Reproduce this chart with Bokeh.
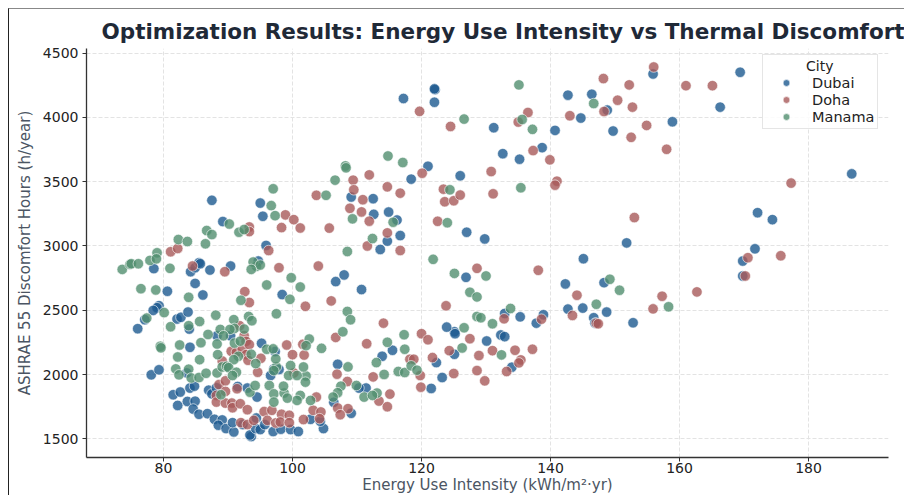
from bokeh.plotting import figure
from bokeh.models import Legend, LegendItem, Range1d, LinearAxis, FixedTicker
from bokeh.embed import file_html
from bokeh.resources import INLINE

cities = ["Dubai", "Doha", "Manama"]
x_ticks = [80, 100, 120, 140, 160, 180]
y_ticks = [1500, 2000, 2500, 3000, 3500, 4000, 4500]
title_text = "Optimization Results: Energy Use Intensity vs Thermal Discomfort"

# (energy use intensity, discomfort hours)
dubai = [
    (117.2, 4147), (122.1, 4216), (122.0, 4222), (122.0, 4118), (121.0, 3620), (118.4, 3520),
    (126.0, 3546), (127.0, 3107), (109.1, 3381), (112.5, 3368), (112.6, 3246), (114.9, 3264),
    (116.2, 3202), (116.7, 3081), (114.7, 3038), (113.6, 2973), (87.5, 3355), (95.0, 3334),
    (95.4, 3231), (89.2, 3190), (95.9, 3004), (131.2, 3920), (132.6, 3718), (135.2, 3675),
    (138.7, 3765), (140.7, 3899), (142.7, 4173), (146.4, 4180), (144.7, 3995), (148.8, 4057),
    (149.7, 3894), (155.9, 4338), (158.9, 3966), (166.3, 4080), (169.4, 4351), (129.8, 3055),
    (151.8, 3024), (186.7, 3561), (172.1, 3259), (174.4, 3205), (171.7, 2978), (169.8, 2883),
    (169.8, 2767), (145.1, 2901), (142.3, 2705), (148.3, 2715), (142.7, 2509), (145.0, 2517),
    (148.7, 2486), (146.7, 2442), (146.9, 2400), (152.8, 2403), (126.9, 2756), (132.9, 2475),
    (135.3, 2449), (138.9, 2465), (137.8, 2400), (125.1, 2333), (125.2, 2318), (130.1, 2261),
    (132.3, 2308), (132.9, 2295), (125.1, 2158), (134.0, 2057), (108.0, 2775), (106.7, 2723),
    (110.7, 2661), (115.5, 2189), (113.9, 2142), (107.0, 2080), (123.9, 2369), (122.3, 2093),
    (123.2, 1977), (121.5, 1892), (111.4, 1895), (110.3, 1895), (106.4, 1784), (109.1, 1699),
    (104.8, 1580), (104.3, 1637), (78.5, 2824), (80.6, 2648), (84.2, 2800), (84.9, 2831),
    (85.5, 2870), (85.7, 2862), (87.2, 2813), (90.4, 2844), (94.7, 2883), (84.9, 2709),
    (86.1, 2619), (98.4, 2622), (79.3, 2536), (79.0, 2520), (78.4, 2499), (77.1, 2427),
    (76.0, 2357), (82.1, 2432), (82.7, 2445), (83.8, 2486), (84.0, 2354), (84.1, 2212),
    (88.3, 2302), (90.4, 2302), (95.2, 2243), (97.3, 2179), (97.1, 2044), (78.1, 1998),
    (79.3, 2037), (83.6, 2013), (81.5, 1843), (82.6, 1864), (84.1, 1895), (84.8, 1910),
    (82.2, 1760), (83.7, 1791), (84.9, 1793), (84.6, 1732), (85.5, 1691), (86.8, 1696),
    (87.0, 1879), (87.5, 1850), (88.2, 1897), (87.9, 1652), (89.1, 1647), (88.5, 1606),
    (89.7, 1580), (90.9, 1554), (90.7, 1626), (92.3, 1611), (93.6, 1518), (93.4, 1530),
    (94.3, 1580), (95.0, 1572), (95.7, 1611), (94.4, 1662), (97.0, 1557), (98.2, 1575),
    (99.7, 1572), (100.9, 1557), (102.8, 1652), (91.5, 1907), (93.0, 1895), (94.5, 1825),
    (96.6, 1993), (97.9, 2039),
]

doha = [
    (119.7, 4047), (124.5, 3930), (103.7, 3394), (109.4, 3512), (109.5, 3437), (111.9, 3553),
    (114.7, 3460), (116.7, 3411), (110.9, 3360), (108.9, 3293), (110.7, 3265), (111.9, 3193),
    (114.7, 3102), (111.6, 3000), (116.7, 2965), (120.1, 3566), (123.4, 3442), (123.6, 3344),
    (125.0, 3352), (126.0, 3396), (122.5, 3192), (105.7, 3139), (98.9, 3242), (100.2, 3205),
    (101.2, 3140), (98.3, 3143), (93.3, 3148), (93.3, 3112), (96.3, 2965), (81.1, 2955),
    (82.2, 2981), (136.5, 4038), (135.0, 3964), (137.3, 3742), (139.9, 3670), (143.0, 4013),
    (148.2, 4302), (152.2, 4253), (156.0, 4392), (150.4, 4134), (152.7, 4080), (148.3, 4046),
    (154.9, 3938), (152.5, 3845), (158.0, 3752), (161.0, 4247), (165.1, 4247), (130.8, 3579),
    (131.1, 3406), (141.0, 3504), (140.7, 3473), (153.0, 3221), (177.3, 3489), (170.6, 2909),
    (175.7, 2924), (170.2, 2767), (162.7, 2643), (157.3, 2609), (128.6, 2826), (138.1, 2811),
    (144.1, 2617), (143.4, 2460), (147.1, 2400), (147.4, 2395), (155.9, 2511), (132.8, 2434),
    (138.6, 2431), (127.5, 2279), (128.9, 2148), (131.0, 2186), (134.5, 2189), (137.2, 2197),
    (135.4, 2114), (135.1, 2091), (133.2, 2024), (128.6, 2031), (129.8, 1951), (125.0, 2008),
    (104.0, 2844), (106.0, 2573), (114.1, 2400), (111.5, 2240), (106.7, 2289), (106.9, 2003),
    (108.5, 1946), (107.0, 1740), (108.6, 1735), (107.4, 1688), (112.5, 1982), (115.1, 1848),
    (113.4, 1794), (114.7, 1750), (120.0, 2318), (121.0, 2271), (121.7, 2132), (124.3, 2186),
    (118.2, 2119), (118.8, 2119), (119.8, 1993), (119.9, 1902), (123.8, 2535), (84.5, 2844),
    (89.5, 2800), (97.9, 2831), (92.6, 2645), (93.3, 2560), (102.0, 2531), (91.8, 2380),
    (90.5, 2181), (91.3, 2173), (92.2, 2199), (92.5, 2302), (92.8, 2258), (93.3, 2233),
    (92.8, 2155), (93.1, 2111), (94.6, 2018), (95.1, 2126), (99.1, 2230), (100.0, 2155),
    (101.6, 2235), (101.8, 2152), (100.2, 2013), (89.1, 2106), (88.6, 1922), (89.6, 1951),
    (88.2, 1838), (88.2, 1786), (89.6, 1778), (90.6, 1778), (90.7, 1742), (91.9, 1773),
    (93.0, 1727), (95.6, 1712), (96.8, 1722), (98.3, 1691), (99.5, 1683), (92.0, 1626),
    (93.0, 1611), (94.0, 1644), (96.1, 1644), (97.4, 1624), (98.1, 1631), (99.5, 1626),
    (101.7, 1650), (103.2, 1722), (103.7, 1825), (89.6, 1869), (91.4, 1890), (104.4, 1709),
    (104.2, 1657),
]

manama = [
    (126.6, 3987), (114.8, 3700), (117.1, 3649), (108.2, 3623), (108.3, 3608), (106.6, 3512),
    (105.2, 3394), (109.3, 3211), (115.6, 3185), (112.4, 3058), (124.4, 3437), (124.0, 3181),
    (97.0, 3445), (96.7, 3314), (97.3, 3236), (90.2, 3171), (86.7, 3120), (87.5, 3089),
    (86.5, 3017), (91.7, 3107), (92.5, 3128), (82.3, 3050), (83.7, 3035), (79.0, 2947),
    (108.5, 2957), (135.1, 4253), (135.6, 3984), (137.2, 3907), (146.7, 4108), (135.4, 3453),
    (158.3, 2527), (125.1, 2787), (130.0, 2767), (127.5, 2640), (128.6, 2604), (149.2, 2741),
    (150.7, 2656), (147.1, 2547), (133.8, 2514), (128.6, 2452), (129.2, 2442), (131.0, 2395),
    (126.6, 2364), (126.3, 2207), (132.4, 2153), (108.5, 2491), (109.0, 2426), (107.8, 2333),
    (104.5, 2204), (114.7, 2251), (117.3, 2310), (117.4, 2197), (113.0, 2093), (114.2, 2001),
    (116.4, 2024), (117.4, 2016), (108.6, 2060), (107.5, 1910), (107.0, 1859), (106.3, 1825),
    (109.9, 1915), (111.1, 1825), (113.1, 1856), (112.4, 1838), (118.4, 2068), (119.3, 2034),
    (121.8, 2896), (73.6, 2818), (74.8, 2857), (75.0, 2862), (76.1, 2862), (77.9, 2888),
    (78.9, 2900), (81.0, 2826), (76.5, 2668), (78.8, 2658), (83.9, 2601), (80.1, 2482),
    (77.4, 2439), (81.1, 2372), (83.9, 2380), (85.6, 2413), (88.1, 2462), (88.8, 2351),
    (86.9, 2312), (85.8, 2248), (82.5, 2230), (79.5, 2220), (79.6, 2208), (82.2, 2137),
    (85.6, 2116), (81.9, 2044), (83.9, 2042), (82.4, 1998), (84.3, 1974), (85.5, 1977),
    (86.6, 2010), (88.3, 2013), (89.1, 2059), (89.8, 2064), (88.4, 2155), (88.3, 2238),
    (90.9, 2427), (91.0, 2359), (92.5, 2354), (93.2, 2452), (93.7, 2419), (94.4, 2842),
    (93.9, 2875), (92.0, 2578), (96.0, 2697), (95.0, 2852), (93.6, 2818), (99.8, 2753),
    (99.6, 2585), (101.2, 2681), (97.5, 2473), (96.0, 2197), (93.6, 2158), (91.6, 2142),
    (90.9, 2116), (91.0, 2245), (91.9, 2260), (90.3, 2351), (89.3, 2302), (94.3, 2086),
    (97.0, 2200), (97.5, 2059), (99.7, 2070), (102.1, 1989), (101.7, 2059), (102.6, 2276),
    (102.1, 2225), (90.1, 2054), (91.3, 2018), (90.7, 1993), (93.4, 1863), (94.2, 1915),
    (96.4, 1915), (97.1, 1850), (98.7, 1856), (101.2, 1838), (102.8, 1799), (100.7, 1799),
    (88.9, 1843), (99.2, 1817), (97.1, 1786), (99.4, 1993), (100.7, 1993), (102.0, 1941),
    (98.6, 1910), (97.4, 2122), (97.1, 2031),
]

colors = ["#1d5a90", "#a75a5a", "#518e6f"]
FONT = "DejaVu Sans"

p = figure(width=896, height=487, output_backend="svg", toolbar_location=None,
           x_range=Range1d(68.06, 192.4), y_range=Range1d(1355, 4536),
           min_border_left=77, min_border_right=17, min_border_top=39, min_border_bottom=39,
           background_fill_color="white", border_fill_color="white")

xaxis = p.below[0]
yaxis = p.left[0]

# invisible spacer panel between the frame and the title
spacer = LinearAxis(ticker=FixedTicker(ticks=[]), axis_line_color=None,
                    major_tick_line_color=None, minor_tick_line_color=None,
                    major_tick_in=0, major_tick_out=8, minor_tick_in=0, minor_tick_out=0,
                    major_label_standoff=0, major_label_text_font_size="1px")
p.add_layout(spacer, "above")

p.title.text = title_text
p.title.text_font = FONT
p.title.text_font_size = "21.5px"
p.title.text_font_style = "bold"
p.title.text_color = "#1f2937"
p.title.align = "left"
p.title.offset = 15

p.outline_line_color = None
p.grid.grid_line_color = "#e3e3e3"
p.grid.grid_line_dash = "4 2"
p.grid.grid_line_width = 1

xaxis.ticker = x_ticks
yaxis.ticker = y_ticks
xaxis.axis_label = "Energy Use Intensity (kWh/m²·yr)"
yaxis.axis_label = "ASHRAE 55 Discomfort Hours (h/year)"
for ax in (xaxis, yaxis):
    ax.axis_label_text_font = FONT
    ax.axis_label_text_font_size = "15px"
    ax.axis_label_text_font_style = "normal"
    ax.axis_label_text_color = "#4b5563"
    ax.major_label_text_font = FONT
    ax.major_label_text_font_size = "14px"
    ax.major_label_text_color = "#222222"
    ax.axis_line_color = "#333333"
    ax.axis_line_width = 1.3
    ax.major_tick_line_color = "#333333"
    ax.major_tick_in = 0
    ax.major_tick_out = 4
    ax.minor_tick_line_color = None
xaxis.major_label_standoff = 1
xaxis.axis_label_standoff = 0
yaxis.major_label_standoff = 4
yaxis.axis_label_standoff = 6

items = []
for name, pts, col in zip(cities, [dubai, doha, manama], colors):
    xs = [a for a, b in pts]
    ys = [b for a, b in pts]
    r = p.scatter(xs, ys, size=10.5, fill_color=col, fill_alpha=0.8,
                  line_color="white", line_width=0.7, line_alpha=0.85)
    items.append(LegendItem(label=name, renderers=[r]))

legend = Legend(items=items, location=(676, 328), margin=0)
legend.title = "\u00a0" * 9 + "City"
legend.title_text_font = FONT
legend.title_text_font_size = "14px"
legend.title_text_font_style = "normal"
legend.title_text_color = "#222222"
legend.title_standoff = 0
legend.label_text_font = FONT
legend.label_text_font_size = "14.5px"
legend.label_text_color = "#222222"
legend.padding = 3
legend.spacing = 0
legend.glyph_height = 17
legend.glyph_width = 40
legend.label_height = 17
legend.label_standoff = 6
legend.border_line_color = "#cccccc"
legend.border_line_width = 1
legend.background_fill_alpha = 0.85
p.add_layout(legend)

p.styles = {"margin-left": "8px", "margin-top": "8px",
            "border-left": "1px solid #222222", "border-top": "1px solid #888888"}

open("out.html", "w").write(file_html(p, INLINE))
